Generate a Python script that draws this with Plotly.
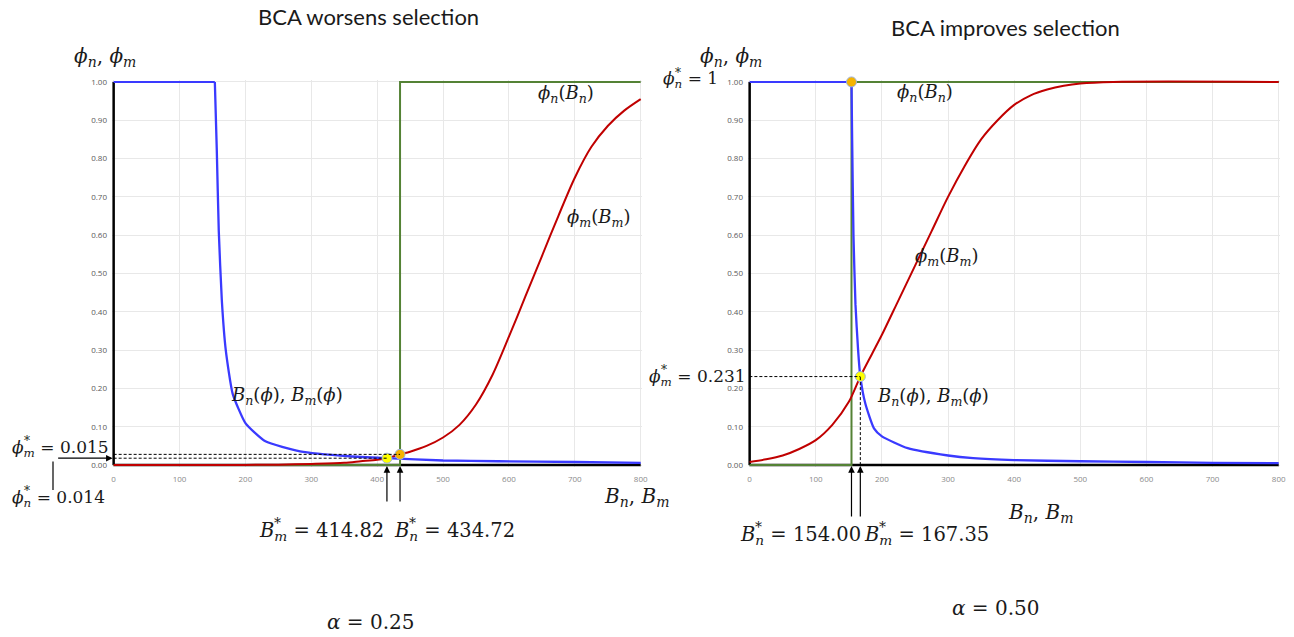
import plotly.graph_objects as go

W, H = 1294, 637

# ---------------- data ----------------
x_ticks = [0, 100, 200, 300, 400, 500, 600, 700, 800]
y_ticks = [0.0, 0.1, 0.2, 0.3, 0.4, 0.5, 0.6, 0.7, 0.8, 0.9, 1.0]

# Left panel (alpha = 0.25)
L_blue_flat_B = [0, 153.6]
L_blue_flat_phi = [1.0, 1.0]
L_blue_B = [153.6, 156.6, 159.6, 164.2, 170.2, 180.7, 200.3, 230.4, 283, 358, 414.82, 500, 584, 700, 800]
L_blue_phi = [1.0, 0.82, 0.61, 0.43, 0.30, 0.186, 0.109, 0.062, 0.036, 0.023, 0.018, 0.012, 0.010, 0.008, 0.006]
L_red_B = [0, 100, 200, 250, 300, 350, 375, 400, 414.82, 434.72, 450, 475, 500, 525, 550, 575, 600,
           625, 650, 675, 700, 725, 750, 775, 800]
L_red_phi = [0.0, 0.0, 0.0005, 0.001, 0.003, 0.006, 0.010, 0.014, 0.018, 0.028, 0.035, 0.05, 0.072, 0.105, 0.158,
             0.235, 0.335, 0.44, 0.545, 0.65, 0.75, 0.83, 0.885, 0.925, 0.955]
L_green_B = [0, 434.72, 434.72, 800]
L_green_phi = [0, 0, 1, 1]
L_Bm_star, L_Bn_star = 414.82, 434.72
L_phim_dot, L_phin_dot = 0.018, 0.028

# Right panel (alpha = 0.50)
R_blue_flat_B = [0, 154]
R_blue_flat_phi = [1.0, 1.0]
R_blue_B = [154, 155, 157, 160, 164, 167.35, 175, 188, 200, 239, 300, 338, 400, 500, 600, 700, 800]
R_blue_phi = [1.0, 0.85, 0.6, 0.42, 0.3, 0.231, 0.16, 0.096, 0.075, 0.044, 0.025, 0.018, 0.013, 0.010, 0.008, 0.006, 0.005]
R_red_B = [0, 25, 50, 75, 100, 125, 150, 167.35, 185, 200, 225, 250, 275, 300, 325, 350, 375, 400,
           425, 450, 475, 500, 550, 800]
R_red_phi = [0.008, 0.015, 0.025, 0.042, 0.065, 0.105, 0.165, 0.231, 0.29, 0.34, 0.43, 0.52, 0.61, 0.70,
             0.78, 0.85, 0.90, 0.94, 0.965, 0.98, 0.99, 0.996, 1.0, 1.0]
R_green_B = [0, 154, 154, 800]
R_green_phi = [0, 0, 1, 1]
R_Bn_star, R_Bm_star = 154.00, 167.35
R_phim_star = 0.231

# ---------------- styling ----------------
BLUE = "#3a3aff"
RED = "#c00000"
GREEN = "#548235"
YELLOW = "#ffff00"
ORANGE = "#f5b400"
MATH = "DejaVu Serif"
MS = 19  # math font size

def X(px):
    return px / W

def Y(py):
    return 1 - py / H

fig = go.Figure()

def add_panel(xa, ya, blue_flat, blue, red, green):
    fig.add_trace(go.Scatter(x=green[0], y=green[1], mode="lines", line=dict(color=GREEN, width=2),
                             xaxis=xa, yaxis=ya, showlegend=False, hoverinfo="skip"))
    fig.add_trace(go.Scatter(x=red[0], y=red[1], mode="lines", line=dict(color=RED, width=2, shape="spline", smoothing=0.8),
                             xaxis=xa, yaxis=ya, showlegend=False, hoverinfo="skip"))
    fig.add_trace(go.Scatter(x=blue_flat[0], y=blue_flat[1], mode="lines", line=dict(color=BLUE, width=2),
                             xaxis=xa, yaxis=ya, showlegend=False, hoverinfo="skip"))
    fig.add_trace(go.Scatter(x=blue[0], y=blue[1], mode="lines", line=dict(color=BLUE, width=2.3, shape="spline", smoothing=0.5),
                             xaxis=xa, yaxis=ya, showlegend=False, hoverinfo="skip"))

add_panel("x", "y", (L_blue_flat_B, L_blue_flat_phi), (L_blue_B, L_blue_phi), (L_red_B, L_red_phi), (L_green_B, L_green_phi))
add_panel("x2", "y2", (R_blue_flat_B, R_blue_flat_phi), (R_blue_B, R_blue_phi), (R_red_B, R_red_phi), (R_green_B, R_green_phi))

def dot(xa, ya, x, y, color):
    fig.add_trace(go.Scatter(x=[x], y=[y], mode="markers", cliponaxis=False,
                             marker=dict(color=color, size=10, line=dict(color="#9db3e0", width=1)),
                             xaxis=xa, yaxis=ya, showlegend=False, hoverinfo="skip"))

shapes = []
DASH = "3px,2px"
def dline(xref, yref, x0, y0, x1, y1, dash=DASH, width=1):
    shapes.append(dict(type="line", xref=xref, yref=yref, x0=x0, y0=y0, x1=x1, y1=y1,
                       line=dict(color="black", width=width, dash=dash), layer="above"))

# axis lines as shapes
for xr, yr in (("x", "y"), ("x2", "y2")):
    shapes.append(dict(type="line", xref=xr, yref=yr, x0=0, y0=0, x1=800, y1=0,
                       line=dict(color="black", width=2.5), layer="between"))
    shapes.append(dict(type="line", xref=xr, yref=yr, x0=0, y0=0, x1=0, y1=1.0,
                       line=dict(color="black", width=2.5), layer="between"))

dline("x", "y", 0, L_phin_dot, L_Bn_star, L_phin_dot)
dline("x", "y", 0, L_phim_dot, L_Bm_star, L_phim_dot)
dline("x2", "y2", -8, R_phim_star, R_Bm_star, R_phim_star)
dline("x2", "y2", R_Bm_star, 0, R_Bm_star, R_phim_star)
# elbow arrow for phi_n* (left panel)
shapes.append(dict(type="line", xref="paper", yref="paper", x0=X(53), y0=Y(490), x1=X(53), y1=Y(461.5),
                   line=dict(color="black", width=1.2)))

dot("x", "y", L_Bm_star, L_phim_dot, YELLOW)
dot("x", "y", L_Bn_star, L_phin_dot, ORANGE)
dot("x2", "y2", R_Bm_star, R_phim_star, YELLOW)
dot("x2", "y2", R_Bn_star, 1.0, ORANGE)

ann = []
def text(px, py, s, size=MS, font=MATH, xanchor="center", yanchor="middle", color="#1a1a1a"):
    ann.append(dict(x=X(px), y=Y(py), xref="paper", yref="paper", text=s, showarrow=False,
                    xanchor=xanchor, yanchor=yanchor, font=dict(family=font, size=size, color=color)))

def up_arrow(xref, yref, x, ay):
    ann.append(dict(x=x, y=0, xref=xref, yref=yref, ax=0, ay=ay, text="", showarrow=True,
                    arrowhead=2, arrowsize=1.1, arrowwidth=1.2, arrowcolor="black", standoff=1))

PHI = "<i>ϕ</i>"
def sub(s):
    return "<sub><i>%s</i></sub>" % s

def starred(px, py, letter, s, value, size=MS):
    """Left-anchored label like  letter*_s = value  with stacked star/subscript."""
    base = "<i>%s</i>" % letter + sub(s) + " = " + value
    text(px, py, base, size=size, xanchor="left")
    gw = (0.66 if letter == "ϕ" else 0.70) * size
    text(px + gw + 1, py - 0.42 * size, "*", size=round(size * 0.72), xanchor="left")

PS = 17     # phi* label size
BS = 19.5   # B* label size

# titles
text(368, 16, "BCA worsens selection", size=22, font="Lato")
text(1005, 28, "BCA improves selection", size=22, font="Lato")

# axis titles
text(105, 57, PHI + sub("n") + ", " + PHI + sub("m"), size=MS + 1)
text(731, 57, PHI + sub("n") + ", " + PHI + sub("m"), size=MS + 1)
text(636, 497, "<i>B</i>" + sub("n") + ", <i>B</i>" + sub("m"), size=MS + 1)
text(1040, 513, "<i>B</i>" + sub("n") + ", <i>B</i>" + sub("m"), size=MS + 1)

# curve labels, left
text(566, 94, PHI + sub("n") + "(<i>B</i>" + sub("n") + ")", size=MS - 1)
text(598, 218, PHI + sub("m") + "(<i>B</i>" + sub("m") + ")", size=MS - 1)
text(287, 396, "<i>B</i>" + sub("n") + "(" + PHI + "), <i>B</i>" + sub("m") + "(" + PHI + ")", size=MS - 1)
# curve labels, right
text(925, 93, PHI + sub("n") + "(<i>B</i>" + sub("n") + ")", size=MS - 1)
text(946, 257, PHI + sub("m") + "(<i>B</i>" + sub("m") + ")", size=MS - 1)
text(933, 397, "<i>B</i>" + sub("n") + "(" + PHI + "), <i>B</i>" + sub("m") + "(" + PHI + ")", size=MS - 1)

# left value labels
starred(10, 448, "ϕ", "m", "0.015", size=PS)
starred(10, 498, "ϕ", "n", "0.014", size=PS)
starred(257, 531, "B", "m", "414.82", size=BS)
starred(392, 531, "B", "n", "434.72", size=BS)
# right value labels
starred(661, 80, "ϕ", "n", "1", size=PS)
starred(647, 377, "ϕ", "m", "0.231", size=PS)
starred(738, 535, "B", "n", "154.00", size=BS)
starred(862, 535, "B", "m", "167.35", size=BS)

# alpha labels
text(371, 622, "<i>α</i> = 0.25", size=MS + 1)
text(996, 608, "<i>α</i> = 0.50", size=MS + 1)

# arrows
up_arrow("x", "y", L_Bm_star, 38)
up_arrow("x", "y", L_Bn_star, 38)
up_arrow("x2", "y2", R_Bn_star, 53)
up_arrow("x2", "y2", R_Bm_star, 53)
ann.append(dict(x=0, y=L_phim_dot, xref="x", yref="y", ax=-57, ay=0, text="", showarrow=True,
                arrowhead=2, arrowsize=1.1, arrowwidth=1.2, arrowcolor="black", standoff=1))

def axis(domain, rng, ticks, anchor, xaxis_like, **kw):
    d = dict(domain=domain, range=rng, tickvals=ticks, anchor=anchor, automargin=False,
             showline=False, zeroline=False, showgrid=True, gridcolor="#e8e8e8", gridwidth=1,
             ticks="", tickfont=dict(family="Open Sans", size=8,
                                     color="#8a8a8a" if xaxis_like else "#595959"))
    d.update(kw)
    return d

fig.update_layout(
    width=W, height=H, margin=dict(l=0, r=0, t=0, b=0, pad=0),
    paper_bgcolor="white", plot_bgcolor="white",
    shapes=shapes, annotations=ann, showlegend=False,
    xaxis=axis([X(112), X(642)], [-2.5, 802], x_ticks, "y", True, ticklabelstandoff=6),
    yaxis=axis([Y(467), Y(80)], [-0.005, 1.005], y_ticks, "x", False, tickformat=".2f", ticklabelstandoff=4),
    xaxis2=axis([X(748), X(1280)], [-2.5, 802], x_ticks, "y2", True, ticklabelstandoff=6),
    yaxis2=axis([Y(467), Y(80)], [-0.005, 1.005], y_ticks, "x2", False, tickformat=".2f", ticklabelstandoff=4),
)

fig.write_html("out.html")
